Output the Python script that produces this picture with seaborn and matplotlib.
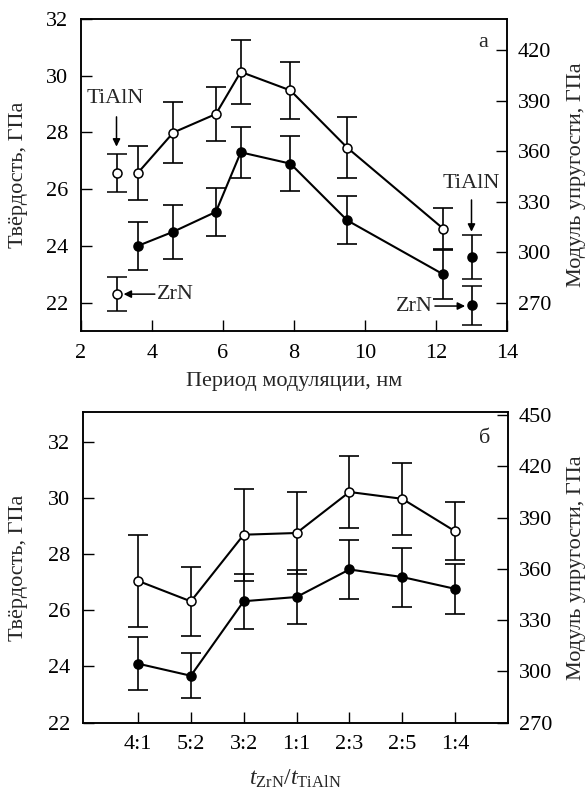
import matplotlib
matplotlib.use("Agg")
import matplotlib.pyplot as plt
import pandas as pd
import seaborn as sns

# ---- panel a: hardness / elastic modulus vs. modulation period ----
period_nm = [3.6, 4.6, 5.8, 6.5, 7.9, 9.5, 12.2]
hardness_a = [24.0, 24.5, 25.2, 27.3, 26.9, 24.9, 23.0]
hardness_a_err = [0.85, 0.95, 0.85, 0.9, 0.97, 0.85, 0.86]
modulus_a = [347, 371, 382, 407, 396, 362, 314]
modulus_a_err = [16, 18, 16, 19, 17, 18, 12]

# single-layer reference coatings (TiAlN, ZrN)
ref_names = ["TiAlN", "ZrN"]
ref_modulus_x = 3.0
ref_modulus = [347, 275]
ref_modulus_err = [11, 10]
ref_hardness_x = 13.0
ref_hardness = [23.6, 21.9]
ref_hardness_err = [0.78, 0.7]

# ---- panel б: hardness / elastic modulus vs. layer thickness ratio ----
ratio_labels = ["4:1", "5:2", "3:2", "1:1", "2:3", "2:5", "1:4"]
hardness_b = [24.1, 23.67, 26.32, 26.47, 27.45, 27.18, 26.76]
hardness_b_err = [0.95, 0.8, 0.97, 0.97, 1.04, 1.05, 0.89]
modulus_b = [353, 341, 380, 381, 405, 401, 382]
modulus_b_err = [27, 20, 27, 24, 21, 21, 17]

sns.set_theme(style="ticks")
plt.rcParams["font.family"] = ["Liberation Serif", "DejaVu Serif"]
plt.rcParams["mathtext.fontset"] = "custom"
plt.rcParams["mathtext.rm"] = "Liberation Serif"
plt.rcParams["mathtext.it"] = "Liberation Serif:italic"

FS = 16
LW = 1.2
MS = 6.5
CAP = 7

W, H = 586, 789
fig = plt.figure(figsize=(W / 100, H / 100), dpi=100)
fig.patch.set_facecolor("white")


def px_axes(left, top, right, bottom):
    return fig.add_axes([left / W, 1 - bottom / H, (right - left) / W, (bottom - top) / H])


def style_axes(ax, ax2):
    for a in (ax, ax2):
        for s in a.spines.values():
            s.set_linewidth(1.1)
            s.set_color("black")
        a.set_facecolor("none")
    ax.tick_params(axis="both", direction="in", length=8, width=1.0,
                   labelsize=FS, colors="black", top=False, right=False)
    ax.tick_params(axis="y", pad=9)
    ax.tick_params(axis="x", pad=9)
    ax2.tick_params(axis="y", direction="in", length=8, width=1.0,
                    labelsize=FS, colors="black", pad=8)


def draw_series(ax, x, y, yerr, filled):
    df = pd.DataFrame({"x": x, "y": y})
    ax.errorbar(x, y, yerr=yerr, fmt="none", ecolor="black",
                elinewidth=LW, capsize=CAP, capthick=LW, zorder=2)
    sns.lineplot(data=df, x="x", y="y", ax=ax, color="black", lw=1.5,
                 marker="o", markersize=MS,
                 markerfacecolor="black" if filled else "white",
                 markeredgecolor="black", markeredgewidth=1.1,
                 sort=False, zorder=3)


def arrow(ax, start, end):
    ax.annotate("", xy=end, xytext=start,
                arrowprops=dict(arrowstyle="-|>", color="black", lw=1.1,
                                mutation_scale=11, shrinkA=0, shrinkB=0))


# ================= panel a =================
ax_a = px_axes(81, 19, 507, 331)
ax_a2 = ax_a.twinx()

draw_series(ax_a, period_nm, hardness_a, hardness_a_err, filled=True)
draw_series(ax_a2, period_nm, modulus_a, modulus_a_err, filled=False)

# reference coatings
ax_a2.errorbar([ref_modulus_x] * 2, ref_modulus, yerr=ref_modulus_err, fmt="o",
               color="black", mfc="white", mec="black", ms=MS, mew=1.1,
               elinewidth=LW, capsize=CAP, capthick=LW, zorder=3)
ax_a.errorbar([ref_hardness_x] * 2, ref_hardness, yerr=ref_hardness_err, fmt="o",
              color="black", mfc="black", mec="black", ms=MS, mew=1.1,
              elinewidth=LW, capsize=CAP, capthick=LW, zorder=3)

ax_a.set_xlim(2, 14)
ax_a.set_ylim(21, 32)
ax_a2.set_ylim(253.2, 438.4)
ax_a.set_xticks([2, 4, 6, 8, 10, 12, 14])
ax_a.set_yticks([22, 24, 26, 28, 30, 32])
ax_a2.set_yticks([270, 300, 330, 360, 390, 420])
style_axes(ax_a, ax_a2)

ax_a.set_xlabel("Период модуляции, нм", fontsize=FS)
ax_a.set_ylabel("Твёрдость, ГПа", fontsize=FS)
ax_a2.set_ylabel("Модуль упругости, ГПа", fontsize=FS)
ax_a.xaxis.set_label_coords(0.5, -0.13)
ax_a.yaxis.set_label_coords(-0.125, 0.5)
ax_a2.yaxis.set_label_coords(1.14, 0.5)

# material labels with arrows (left-axis units)
ax_a.text(2.97, 29.2, ref_names[0], ha="center", va="center", fontsize=FS)
arrow(ax_a, (3.0, 28.55), (3.0, 27.5))
ax_a.text(4.13, 22.3, ref_names[1], ha="left", va="center", fontsize=FS)
arrow(ax_a, (4.08, 22.3), (3.2, 22.3))
ax_a.text(13.0, 26.2, ref_names[0], ha="center", va="center", fontsize=FS)
arrow(ax_a, (13.0, 25.62), (13.0, 24.5))
ax_a.text(11.92, 21.88, ref_names[1], ha="right", va="center", fontsize=FS)
arrow(ax_a, (11.97, 21.88), (12.82, 21.88))
ax_a.text(0.945, 0.925, "а", transform=ax_a.transAxes, ha="center",
          va="center", fontsize=FS)

# ================= panel б =================
ax_b = px_axes(83, 412, 508, 722.7)
ax_b2 = ax_b.twinx()
pos = list(range(len(ratio_labels)))

draw_series(ax_b, pos, hardness_b, hardness_b_err, filled=True)
draw_series(ax_b2, pos, modulus_b, modulus_b_err, filled=False)

ax_b.set_xlim(-1.04, 7.0)
ax_b.set_ylim(22, 33.05)
ax_b2.set_ylim(270, 451.8)
ax_b.set_xticks(pos)
ax_b.set_xticklabels(ratio_labels)
ax_b.set_yticks([22, 24, 26, 28, 30, 32])
ax_b2.set_yticks([270, 300, 330, 360, 390, 420, 450])
style_axes(ax_b, ax_b2)

ax_b.set_xlabel(r"$t_{\mathrm{ZrN}}/t_{\mathrm{TiAlN}}$", fontsize=FS + 1)
ax_b.set_ylabel("Твёрдость, ГПа", fontsize=FS)
ax_b2.set_ylabel("Модуль упругости, ГПа", fontsize=FS)
ax_b.xaxis.set_label_coords(0.5, -0.145)
ax_b.yaxis.set_label_coords(-0.13, 0.5)
ax_b2.yaxis.set_label_coords(1.14, 0.5)
ax_b.text(0.945, 0.915, "б", transform=ax_b.transAxes, ha="center",
          va="center", fontsize=FS)

fig.savefig("out.png", dpi=100, facecolor="white")
